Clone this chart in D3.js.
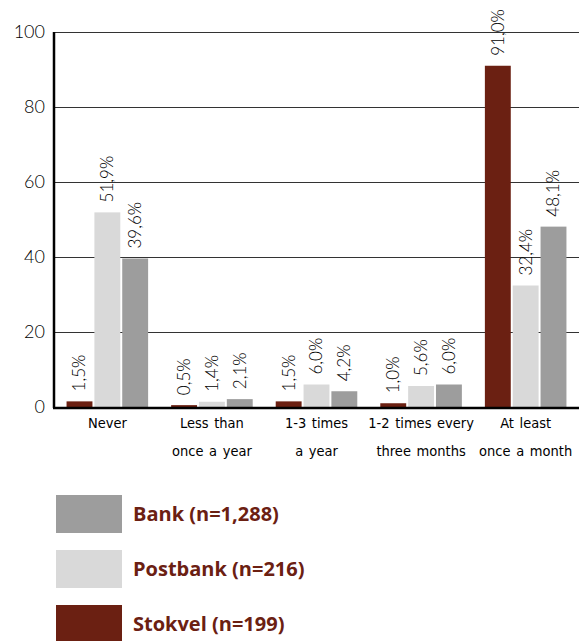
<!DOCTYPE html>
<html>
<head>
<meta charset="utf-8">
<script src="https://cdn.jsdelivr.net/npm/d3@7"></script>
<style>
  body { margin: 0; background: #fff; }
  svg { display: block; }
</style>
</head>
<body>
<div id="chart"></div>
<script>
// data
const categories = [["Never"], ["Less than", "once a year"], ["1-3 times", "a year"], ["1-2 times every", "three months"], ["At least", "once a month"]];
const seriesNames = ["Stokvel", "Postbank", "Bank"];
const stokvel = [1.5, 0.5, 1.5, 1.0, 91.0];
const postbank = [51.9, 1.4, 6.0, 5.6, 32.4];
const bank = [39.6, 2.1, 4.2, 6.0, 48.1];
const yTicks = [0, 20, 40, 60, 80, 100];
const legendLabels = ["Bank (n=1,288)", "Postbank (n=216)", "Stokvel (n=199)"];

const width = 579, height = 641;
const margin = { top: 32, left: 54, right: 0, bottom: 407 };

const colors = { Stokvel: "#6b2012", Postbank: "#d9d9d9", Bank: "#9d9d9d" };
const values = { Stokvel: stokvel, Postbank: postbank, Bank: bank };

const data = categories.map((c, i) => ({
  key: c.join(" "),
  lines: c,
  vals: seriesNames.map(s => ({ name: s, value: values[s][i] }))
}));

const svg = d3.select("#chart").append("svg")
  .attr("width", width)
  .attr("height", height);

const x0 = d3.scaleBand()
  .domain(data.map(d => d.key))
  .range([margin.left, width - margin.right])
  .paddingInner(0.22)
  .paddingOuter(0.12);

const x1 = d3.scaleBand()
  .domain(seriesNames)
  .range([0, x0.bandwidth()])
  .paddingInner(0.07);

const y = d3.scaleLinear()
  .domain([0, 100])
  .range([margin.bottom, margin.top]);

// gridlines
svg.append("g")
  .selectAll("line")
  .data(yTicks.filter(t => t > 0))
  .enter().append("line")
  .attr("x1", margin.left)
  .attr("x2", width)
  .attr("y1", d => y(d) + 0.5)
  .attr("y2", d => y(d) + 0.5)
  .attr("stroke", "#333")
  .attr("stroke-width", 1);

// y axis labels
const yAxis = d3.axisLeft(y).tickValues(yTicks).tickSize(0).tickPadding(9);
const gy = svg.append("g")
  .attr("transform", `translate(${margin.left},0)`)
  .call(yAxis);
gy.select(".domain").remove();
gy.selectAll("text")
  .attr("font-family", "Lato, 'Open Sans', sans-serif")
  .attr("font-weight", 300)
  .attr("font-size", "18px")
  .attr("fill", "#000");

// bars
const groups = svg.append("g")
  .selectAll("g")
  .data(data)
  .enter().append("g")
  .attr("transform", d => `translate(${x0(d.key)},0)`);

groups.selectAll("rect")
  .data(d => d.vals)
  .enter().append("rect")
  .attr("x", d => x1(d.name))
  .attr("y", d => y(d.value))
  .attr("width", x1.bandwidth())
  .attr("height", d => y(0) - y(d.value))
  .attr("fill", d => colors[d.name]);

// value labels
groups.selectAll("text.val")
  .data(d => d.vals)
  .enter().append("text")
  .attr("class", "val")
  .attr("transform", d => `translate(${x1(d.name) + x1.bandwidth() / 2},${y(d.value) - 10}) rotate(-90)`)
  .attr("dy", "0.35em")
  .attr("text-anchor", "start")
  .attr("font-family", "Lato, 'Open Sans', sans-serif")
  .attr("font-weight", 300)
  .attr("font-size", "17px")
  .attr("fill", "#000")
  .text(d => d.value.toFixed(1).replace(".", ",") + "%");

// axes lines
svg.append("line")
  .attr("x1", margin.left).attr("x2", margin.left)
  .attr("y1", margin.top).attr("y2", y(0) + 1)
  .attr("stroke", "#000").attr("stroke-width", 2.5);

svg.append("line")
  .attr("x1", margin.left - 1).attr("x2", width)
  .attr("y1", y(0) + 1).attr("y2", y(0) + 1)
  .attr("stroke", "#000").attr("stroke-width", 2.5);

// x labels
const xl = svg.append("g")
  .selectAll("text")
  .data(data)
  .enter().append("text")
  .attr("x", d => x0(d.key) + x0.bandwidth() / 2)
  .attr("y", 428)
  .attr("text-anchor", "middle")
  .attr("font-family", "'Liberation Sans Narrow', 'DejaVu Sans Condensed', sans-serif")
  .attr("font-size", "14.5px")
  .attr("font-weight", 500)
  .attr("word-spacing", "1.5px")
  .attr("fill", "#000");

xl.selectAll("tspan")
  .data(d => d.lines)
  .enter().append("tspan")
  .attr("x", function () { return d3.select(this.parentNode).attr("x"); })
  .attr("dy", (d, i) => i === 0 ? 0 : 28)
  .text(d => d);

// legend
const legendColors = ["Bank", "Postbank", "Stokvel"].map(k => colors[k]);
const legend = svg.append("g")
  .selectAll("g")
  .data(legendLabels)
  .enter().append("g")
  .attr("transform", (d, i) => `translate(56,${495 + i * 55})`);

legend.append("rect")
  .attr("width", 66)
  .attr("height", 38)
  .attr("fill", (d, i) => legendColors[i]);

legend.append("text")
  .attr("x", 77)
  .attr("y", 19)
  .attr("dy", "0.35em")
  .attr("font-family", "'Open Sans', Lato, sans-serif")
  .attr("font-weight", "bold")
  .attr("font-size", "20px")
  .attr("fill", "#6b2012")
  .text(d => d);
</script>
</body>
</html>
